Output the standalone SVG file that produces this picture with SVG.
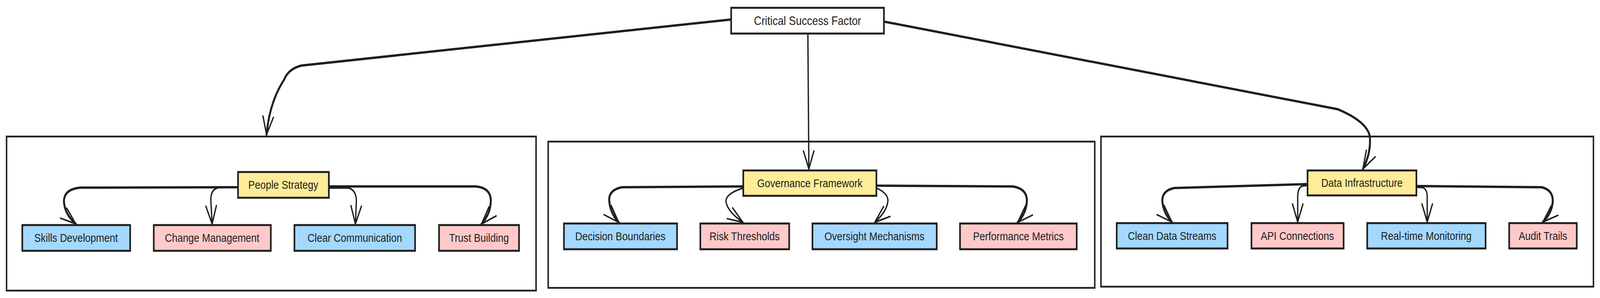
<svg xmlns="http://www.w3.org/2000/svg" width="4880" height="764" viewBox="0 0 4880 764" preserveAspectRatio="none" style="width:100vw;height:100vh;display:block">
<style>
.bg{fill:#ffffff}
.cont{fill:none;stroke:#1e1e1e;stroke-width:4.5}
.node{stroke:#1e1e1e;stroke-width:5}
.root{fill:#ffffff}
.hub{fill:#ffec99}
.blue{fill:#a5d8ff}
.pink{fill:#ffc9c9}
.lbl{font-family:"Liberation Sans",Arial,sans-serif;font-size:30px;fill:#1e1e1e;text-anchor:middle;dominant-baseline:central}
.rootlbl{font-size:32px}
.edge{fill:none;stroke:#1e1e1e;stroke-width:4;stroke-linecap:round;stroke-linejoin:round;marker-end:url(#arr)}
.thick{stroke-width:6}
</style>
<defs>
<marker id="arr" markerUnits="userSpaceOnUse" viewBox="-50 -22 54 44" refX="0" refY="0" markerWidth="54" markerHeight="44" orient="auto">
<path d="M-46,-16 L0,0 L-46,16" fill="none" stroke="#1e1e1e" stroke-width="4" stroke-linecap="round" stroke-linejoin="round"/>
</marker>
</defs>
<rect class="bg" x="0" y="0" width="4880" height="764"/>

<g id="group-people">
<rect class="cont" x="20" y="350" width="1615" height="395"/>
</g>
<g id="group-governance">
<rect class="cont" x="1672" y="363" width="1667" height="375"/>
</g>
<g id="group-data">
<rect class="cont" x="3358" y="350" width="1502" height="385"/>
</g>

<g id="connectors">
<path class="edge thick" d="M2230,50 L920,168 Q880,176 866,205 Q822,262 813,345"/>
<path class="edge" d="M2464,86 L2467,433"/>
<path class="edge thick" d="M2700,56 L4080,280 Q4170,312 4178,350 Q4182,392 4157,433"/>

<path class="edge thick" d="M726,480 L245,481 Q196,485 195,515 Q196,548 231,574"/>
<path class="edge" d="M726,481 L668,481 Q643,484 643,512 L647,574"/>
<path class="edge" d="M1003,482 L1062,482 Q1086,486 1087,515 L1084,574"/>
<path class="edge thick" d="M1003,478 L1452,478 Q1497,482 1497,515 Q1496,548 1469,574"/>

<path class="edge thick" d="M2267,478 L1898,480 Q1858,486 1858,512 Q1860,545 1887,570"/>
<path class="edge" d="M2267,482 Q2214,496 2214,516 Q2218,542 2266,570"/>
<path class="edge" d="M2673,482 Q2710,496 2708,516 Q2705,542 2668,570"/>
<path class="edge thick" d="M2673,476 L3088,478 Q3132,483 3132,515 Q3130,547 3104,570"/>

<path class="edge thick" d="M3988,472 L3582,482 Q3545,488 3545,515 Q3548,546 3574,569"/>
<path class="edge" d="M3988,475 L3972,477 Q3958,481 3958,505 L3958,569"/>
<path class="edge" d="M4320,480 L4340,481 Q4353,486 4353,505 L4353,569"/>
<path class="edge thick" d="M4320,477 L4702,480 Q4736,487 4736,515 Q4734,546 4706,569"/>
</g>

<g id="node-csf">
<rect class="node root" x="2230" y="20" width="466" height="66"/>
<text class="lbl rootlbl" x="2463" y="53">Critical Success Factor</text>
</g>

<g id="node-people-strategy">
<rect class="node hub" x="726" y="441" width="277" height="66"/>
<text class="lbl" x="864" y="474">People Strategy</text>
</g>
<g id="node-skills">
<rect class="node blue" x="68" y="577" width="329" height="66"/>
<text class="lbl" x="232" y="610">Skills Development</text>
</g>
<g id="node-change">
<rect class="node pink" x="469" y="577" width="357" height="66"/>
<text class="lbl" x="647" y="610">Change Management</text>
</g>
<g id="node-clear">
<rect class="node blue" x="898" y="577" width="368" height="66"/>
<text class="lbl" x="1082" y="610">Clear Communication</text>
</g>
<g id="node-trust">
<rect class="node pink" x="1339" y="577" width="244" height="66"/>
<text class="lbl" x="1461" y="610">Trust Building</text>
</g>

<g id="node-governance">
<rect class="node hub" x="2267" y="437" width="406" height="65"/>
<text class="lbl" x="2470" y="470">Governance Framework</text>
</g>
<g id="node-decision">
<rect class="node blue" x="1720" y="573" width="345" height="66"/>
<text class="lbl" x="1892" y="606">Decision Boundaries</text>
</g>
<g id="node-risk">
<rect class="node pink" x="2136" y="573" width="271" height="66"/>
<text class="lbl" x="2271" y="606">Risk Thresholds</text>
</g>
<g id="node-oversight">
<rect class="node blue" x="2478" y="573" width="379" height="66"/>
<text class="lbl" x="2667" y="606">Oversight Mechanisms</text>
</g>
<g id="node-performance">
<rect class="node pink" x="2928" y="573" width="356" height="66"/>
<text class="lbl" x="3106" y="606">Performance Metrics</text>
</g>

<g id="node-data">
<rect class="node hub" x="3988" y="437" width="332" height="64"/>
<text class="lbl" x="4154" y="469">Data Infrastructure</text>
</g>
<g id="node-clean">
<rect class="node blue" x="3406" y="572" width="338" height="65"/>
<text class="lbl" x="3575" y="605">Clean Data Streams</text>
</g>
<g id="node-api">
<rect class="node pink" x="3817" y="572" width="281" height="65"/>
<text class="lbl" x="3957" y="605">API Connections</text>
</g>
<g id="node-realtime">
<rect class="node blue" x="4170" y="572" width="361" height="65"/>
<text class="lbl" x="4350" y="605">Real-time Monitoring</text>
</g>
<g id="node-audit">
<rect class="node pink" x="4603" y="572" width="206" height="65"/>
<text class="lbl" x="4706" y="605">Audit Trails</text>
</g>
</svg>
